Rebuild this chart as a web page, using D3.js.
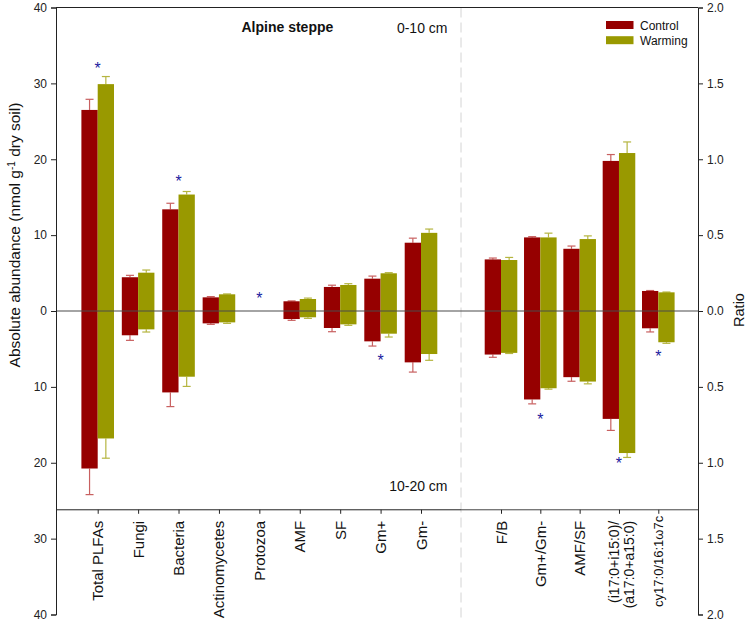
<!DOCTYPE html>
<html>
<head>
<meta charset="utf-8">
<script src="https://cdn.jsdelivr.net/npm/d3@7"></script>
<style>
  html, body { margin: 0; padding: 0; background: #fff; }
  svg { display: block; font-family: "Liberation Sans", Arial, sans-serif; }
</style>
</head>
<body>
<svg id="chart" width="747" height="622"></svg>
<script>
// ---------------- DATA ----------------
const categories = ["Total PLFAs", "Fungi", "Bacteria", "Actinomycetes", "Protozoa", "AMF", "SF", "Gm+", "Gm-"];
const ratioCategories = ["F/B", "Gm+/Gm-", "AMF/SF", "(i17:0+i15:0)/(a17:0+a15:0)", "cy17:0/16:1\u03c97c"];
const series = ["Control", "Warming"];

// Absolute abundance, 0-10 cm (upper half)
const control0_10   = [26.5, 4.45, 13.4, 1.8, 0, 1.28, 3.17, 4.26, 9.0];
const controlSE0_10 = [1.4, 0.25, 0.8, 0.1, 0, 0.05, 0.23, 0.34, 0.6];
const warming0_10   = [29.9, 5.05, 15.35, 2.2, 0, 1.58, 3.43, 4.97, 10.3];
const warmingSE0_10 = [1.0, 0.35, 0.4, 0.05, 0, 0.12, 0.17, 0.08, 0.5];

// Absolute abundance, 10-20 cm (lower half)
const control10_20   = [20.76, 3.2, 10.73, 1.63, 0, 1.06, 2.24, 4.0, 6.77];
const controlSE10_20 = [3.44, 0.67, 1.87, 0.13, 0, 0.17, 0.49, 0.62, 1.28];
const warming10_20   = [16.8, 2.42, 8.66, 1.5, 0, 0.83, 1.76, 2.99, 5.67];
const warmingSE10_20 = [2.6, 0.35, 1.28, 0.13, 0, 0.14, 0.13, 0.44, 0.83];

// Ratios, 0-10 cm
const ratioControl0_10   = [0.34, 0.485, 0.41, 0.989, 0.132];
const ratioControlSE0_10 = [0.009, 0.005, 0.018, 0.042, 0.003];
const ratioWarming0_10   = [0.336, 0.485, 0.474, 1.041, 0.123];
const ratioWarmingSE0_10 = [0.017, 0.028, 0.021, 0.073, 0.002];

// Ratios, 10-20 cm
const ratioControl10_20   = [0.287, 0.583, 0.436, 0.711, 0.114];
const ratioControlSE10_20 = [0.018, 0.029, 0.027, 0.076, 0.024];
const ratioWarming10_20   = [0.276, 0.509, 0.465, 0.936, 0.206];
const ratioWarmingSE10_20 = [0.004, 0.006, 0.015, 0.029, 0.007];

// Significance markers (category, layer, value position)
const starsAbund = [
  {cat: "Total PLFAs", layer: "top", v: 32.45},
  {cat: "Bacteria", layer: "top", v: 17.5},
  {cat: "Protozoa", layer: "top", v: 2.07},
  {cat: "Gm+", layer: "bottom", v: 6.1}
];
const starsRatio = [
  {cat: "Gm+/Gm-", layer: "bottom", v: 0.695},
  {cat: "(i17:0+i15:0)/(a17:0+a15:0)", layer: "bottom", v: 0.98},
  {cat: "cy17:0/16:1\u03c97c", layer: "bottom", v: 0.28}
];

const leftTicks = [40, 30, 20, 10, 0, -10, -20, -30, -40];
const rightTicks = [2.0, 1.5, 1.0, 0.5, 0.0, -0.5, -1.0, -1.5, -2.0];

// ---------------- LAYOUT ----------------
const L = 56, R = 698, T = 7.5, B = 614.5;
const frameBottomValue = -26.2;
const colors = {Control: "#960000", Warming: "#999900"};
const errColors = {Control: "#c86060", Warming: "#b5b540"};
const barW = 16.3, capW = 8;

const svg = d3.select("#chart");

const yL = d3.scaleLinear().domain([40, -40]).range([T, B]);
const yR = d3.scaleLinear().domain([2, -2]).range([T, B]);
const xA = d3.scalePoint().domain(categories).range([97.7, 421]);
const xRt = d3.scalePoint().domain(ratioCategories).range([501, 658.3]);
const yFrame = yL(frameBottomValue);
const dividerX = (xA(categories[categories.length - 1]) + xRt(ratioCategories[0])) / 2;

// Build bar records
function build(cats, xs, cTop, cTopSE, wTop, wTopSE, cBot, cBotSE, wBot, wBotSE, ys) {
  const out = [];
  cats.forEach((c, i) => {
    [["Control", cTop, cTopSE, cBot, cBotSE], ["Warming", wTop, wTopSE, wBot, wBotSE]].forEach(([s, top, topSE, bot, botSE]) => {
      out.push({cat: c, s, v: top[i], se: topSE[i], sign: 1, x: xs, y: ys});
      out.push({cat: c, s, v: bot[i], se: botSE[i], sign: -1, x: xs, y: ys});
    });
  });
  return out.filter(d => d.v > 0);
}
const bars = build(categories, xA, control0_10, controlSE0_10, warming0_10, warmingSE0_10,
                   control10_20, controlSE10_20, warming10_20, warmingSE10_20, yL)
  .concat(build(ratioCategories, xRt, ratioControl0_10, ratioControlSE0_10, ratioWarming0_10, ratioWarmingSE0_10,
                ratioControl10_20, ratioControlSE10_20, ratioWarming10_20, ratioWarmingSE10_20, yR));

function barX(d) { return d.s === "Control" ? d.x(d.cat) - barW : d.x(d.cat); }
function barC(d) { return barX(d) + barW / 2; }

// dashed divider
svg.append("line")
  .attr("x1", dividerX).attr("x2", dividerX)
  .attr("y1", T).attr("y2", B + 3)
  .attr("stroke", "#d4d4d4").attr("stroke-width", 1)
  .attr("stroke-dasharray", "10,5");

// error bars
const eg = svg.append("g");
bars.forEach(d => {
  const y0 = d.y(d.sign * d.v), y1 = d.y(d.sign * (d.v + d.se));
  const cx = barC(d);
  eg.append("line").attr("x1", cx).attr("x2", cx).attr("y1", y0).attr("y2", y1)
    .attr("stroke", errColors[d.s]).attr("stroke-width", 1.2);
  eg.append("line").attr("x1", cx - capW / 2).attr("x2", cx + capW / 2).attr("y1", y1).attr("y2", y1)
    .attr("stroke", errColors[d.s]).attr("stroke-width", 1.2);
});

// bars
svg.append("g").selectAll("rect").data(bars).join("rect")
  .attr("x", barX)
  .attr("width", barW)
  .attr("y", d => Math.min(d.y(0), d.y(d.sign * d.v)))
  .attr("height", d => Math.abs(d.y(0) - d.y(d.sign * d.v)))
  .attr("fill", d => colors[d.s]);

// zero line
svg.append("line").attr("x1", L).attr("x2", R).attr("y1", yL(0)).attr("y2", yL(0))
  .attr("stroke", "#4a4a4a").attr("stroke-width", 1.2);

// frame
svg.append("line").attr("x1", L).attr("x2", R).attr("y1", T).attr("y2", T).attr("stroke", "#222");
svg.append("line").attr("x1", L).attr("x2", dividerX).attr("y1", yFrame).attr("y2", yFrame).attr("stroke", "#222");
svg.append("line").attr("x1", dividerX).attr("x2", R).attr("y1", yFrame).attr("y2", yFrame).attr("stroke", "#444");

// left axis
const axL = d3.axisLeft(yL).tickValues(leftTicks).tickSize(5).tickPadding(4).tickFormat(d => Math.abs(d));
const gL = svg.append("g").attr("transform", `translate(${L},0)`).call(axL);
// right axis
const axR = d3.axisRight(yR).tickValues(rightTicks).tickSize(5).tickPadding(4).tickFormat(d => d3.format(".1f")(Math.abs(d)));
const gR = svg.append("g").attr("transform", `translate(${R},0)`).call(axR);
[gL, gR].forEach(g => {
  g.select(".domain").attr("stroke", "#222");
  g.selectAll(".tick line").attr("stroke", "#222");
  g.selectAll(".tick text").attr("font-size", 12).attr("fill", "#222").attr("font-family", "Liberation Sans, Arial, sans-serif");
});

// category axes
function catAxis(scale) {
  const ax = d3.axisBottom(scale).tickSize(4).tickFormat("");
  const g = svg.append("g").attr("transform", `translate(0,${yFrame})`).call(ax);
  g.select(".domain").remove();
  g.selectAll(".tick line").attr("stroke", "#222");
  return g;
}
catAxis(xA); catAxis(xRt);

const labelG = svg.append("g").attr("fill", "#111");
function catLabels(cats, scale) {
  cats.forEach(c => {
    const parts = c.startsWith("(i17") ? ["(i17:0+i15:0)/", "(a17:0+a15:0)"] : [c];
    const n = parts.length;
    const isOmega = c.indexOf("\u03c9") >= 0;
    const fs = isOmega ? 13 : (n > 1 ? 14 : 15);
    parts.forEach((p, k) => {
      const cx = scale(c) + 5.5 + (k - (n - 1) / 2) * 15 + (n > 1 ? 2 : 0) - (isOmega ? 0.5 : 0);
      labelG.append("text")
        .attr("transform", `translate(${cx},${yFrame + (isOmega ? 6 : 11)}) rotate(-90)`)
        .attr("text-anchor", "end")
        .attr("font-size", fs)
        .text(p);
    });
  });
}
catLabels(categories, xA);
catLabels(ratioCategories, xRt);

// stars
function drawStars(list, xs, ys) {
  list.forEach(s => {
    svg.append("text")
      .attr("x", xs(s.cat))
      .attr("y", ys(s.layer === "top" ? s.v : -s.v) + 9)
      .attr("text-anchor", "middle")
      .attr("font-size", 16)
      .attr("fill", "#1a1aa0")
      .text("*");
  });
}
drawStars(starsAbund, xA, yL);
drawStars(starsRatio, xRt, yR);

// annotations
svg.append("text").attr("x", 241.5).attr("y", 32).attr("font-size", 14).attr("font-weight", "bold").attr("fill", "#111").text("Alpine steppe");
svg.append("text").attr("x", 447.5).attr("y", 32.5).attr("font-size", 14).attr("text-anchor", "end").attr("fill", "#111").text("0-10 cm");
svg.append("text").attr("x", 447.5).attr("y", 490.5).attr("font-size", 14).attr("text-anchor", "end").attr("fill", "#111").text("10-20 cm");

// legend
const leg = svg.append("g");
series.forEach((s, i) => {
  leg.append("rect").attr("x", 606).attr("y", 21 + i * 15.2).attr("width", 27.5).attr("height", 8).attr("fill", colors[s]);
  leg.append("text").attr("x", 640).attr("y", 29.5 + i * 15.2).attr("font-size", 12).attr("fill", "#111").text(s);
});

// axis titles
const yt = svg.append("text")
  .attr("transform", `translate(20,235) rotate(-90)`)
  .attr("text-anchor", "middle").attr("font-size", 15.5).attr("fill", "#111");
yt.append("tspan").text("Absolute abundance (nmol g");
yt.append("tspan").attr("dy", -5.5).attr("font-size", 10).text("-1");
yt.append("tspan").attr("dy", 5.5).text(" dry soil)");

svg.append("text")
  .attr("transform", `translate(743.5,310) rotate(-90)`)
  .attr("text-anchor", "middle").attr("font-size", 14.5).attr("fill", "#111")
  .text("Ratio");
</script>
</body>
</html>
